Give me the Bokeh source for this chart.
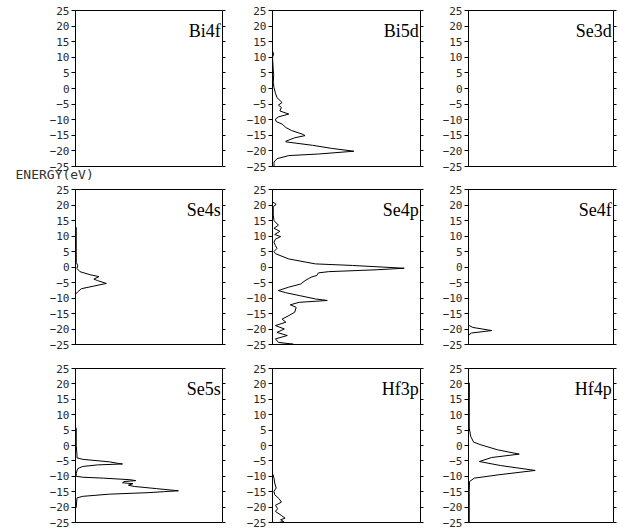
from bokeh.plotting import figure
from bokeh.layouts import gridplot
from bokeh.models import Range1d, FixedTicker, LinearAxis, Label, Title
from bokeh.embed import file_html
from bokeh.resources import INLINE

# ---------------- data ----------------
energy_ticks = [-25, -20, -15, -10, -5, 0, 5, 10, 15, 20, 25]
panel_names = ["Bi4f", "Bi5d", "Se3d", "Se4s", "Se4p", "Se4f", "Se5s", "Hf3p", "Hf4p"]
y_label = "ENERGY(eV)"

bi4f_energy = [25, -25]
bi4f_dos = [0.0, 0.0]

bi5d_energy = [25, 12, 11, 10, 6, 4.5, 2, 0.3, -1.5, -2.9, -4.5, -5.3, -6.1, -7.2, -8.2,
               -9.1, -9.8, -10.6, -11.4, -12.5, -13.5, -14.6, -15.1, -15.8, -16.9, -17.1,
               -18.2, -19.2, -20.1, -21.0, -21.5, -22.5, -23.6, -25]
bi5d_dos = [0.0, 0.0, 0.08, 0.0, 0.05, 0.08, 0.05, 0.1, 0.2, 0.3, 0.65, 0.4, 0.6, 0.5, 1.1,
            0.4, 0.2, 0.25, 0.65, 0.9, 1.3, 2.0, 2.2, 1.5, 0.9, 0.9,
            2.7, 4.0, 5.5, 3.1, 1.1, 0.3, 0.1, 0.1]

se3d_energy = [25, -25]
se3d_dos = [0.0, 0.0]

se4s_energy = [25, 13, 12.8, 5, 1.5, 0.5, -0.5, -1.5, -2.5, -3.1, -3.9, -4.4, -5.3, -6.2,
               -7.0, -8.0, -8.8, -25]
se4s_dos = [0.0, 0.0, 0.05, 0.05, 0.05, 0.15, 0.1, 0.3, 1.0, 1.6, 1.25, 1.5, 2.1, 1.2,
            0.4, 0.15, 0.0, 0.0]

se4p_energy = [25, 21, 20.2, 19.5, 17, 15, 13.5, 12.5, 11.5, 10.5, 9.8, 9, 8, 6.9, 6.0,
               5.0, 4.3, 2.6, 1.0, 0.5, -0.4, -0.9, -1.5, -1.9, -2.7, -3.3, -4.4, -5.5,
               -6.5, -7.6, -8.3, -9.2, -10.3, -10.8, -11.4, -12.2, -13.0, -14.6, -15.7,
               -16.8, -17.8, -18.9, -20.0, -21.1, -22.1, -23.2, -24.3, -24.9, -25]
se4p_dos = [0.0, 0.0, 0.25, 0.05, 0.05, 0.1, 0.4, 0.1, 0.5, 0.15, 0.55, 0.2, 0.1, 0.2, 0.3,
            0.1, 0.2, 1.1, 2.9, 5.4, 8.9, 7.0, 3.8, 3.1, 3.0, 2.6, 2.2, 1.9,
            1.1, 0.4, 0.9, 1.8, 2.9, 3.7, 1.8, 1.2, 1.6, 1.5, 1.1,
            0.65, 0.9, 0.2, 0.8, 0.3, 1.0, 0.2, 0.4, 1.4, 0.3]

se4f_energy = [25, -18.8, -19.5, -20.5, -21.3, -22.0, -25]
se4f_dos = [0.0, 0.0, 0.3, 1.6, 0.2, 0.0, 0.0]

se5s_energy = [25, 6, 5.5, 0, -3, -4.0, -4.5, -5.3, -5.8, -6.0, -6.3, -6.8, -7.5, -9, -10,
               -10.3, -10.6, -11.1, -11.4, -11.7, -12.1, -12.4, -12.9, -13.3, -14.0,
               -14.7, -15.0, -15.3, -15.8, -16.5, -17, -20, -20.5, -25]
se5s_dos = [0.0, 0.0, 0.05, 0.05, 0.1, 0.1, 0.5, 2.3, 2.9, 3.2, 1.5, 0.5, 0.15, 0.05, 0.05,
            0.5, 1.9, 3.7, 4.1, 3.3, 3.2, 3.9, 3.6, 4.0, 5.5,
            7.0, 6.0, 5.0, 2.3, 0.5, 0.1, 0.05, 0.0, 0.0]

hf3p_energy = [25, -9, -10.6, -12.2, -13.8, -14.9, -16.0, -17.3, -18.4, -19.4, -20.5,
               -21.4, -22.7, -23.6, -24.1, -24.7, -25]
hf3p_dos = [0.0, 0.0, 0.1, 0.15, 0.25, 0.1, 0.15, 0.45, 0.6, 0.2, 0.35,
            0.2, 0.6, 0.85, 0.55, 0.75, 0.4]

hf4p_energy = [25, 20.5, 20.3, 5.7, 3.0, 1.1, 0.3, -1.4, -2.8, -3.9, -5.2, -6.5, -8.1, -9.5,
               -10.6, -11.7, -15, -20, -25]
hf4p_dos = [0.0, 0.0, 0.06, 0.05, 0.15, 0.35, 0.8, 2.0, 3.5, 1.6, 0.75, 2.2, 4.6, 2.1,
            0.4, 0.07, 0.05, 0.05, 0.05]

energies = [bi4f_energy, bi5d_energy, se3d_energy, se4s_energy, se4p_energy,
            se4f_energy, se5s_energy, hf3p_energy, hf4p_energy]
dos_values = [bi4f_dos, bi5d_dos, se3d_dos, se4s_dos, se4p_dos,
              se4f_dos, se5s_dos, hf3p_dos, hf4p_dos]

# ---------------- layout ----------------
col_left = [75, 44, 42]
col_frame = [147, 148, 145]
col_right = [6, 6, 4]
row_top = [10, 6, 12]
row_frame = [156, 155, 154]
row_bottom = [17, 12, 8]

X_MAX = 10.0
TICK_FONT = "DejaVu Sans Mono"

rows = []
for r in range(3):
    row = []
    for c in range(3):
        i = r * 3 + c
        p = figure(
            width=col_left[c] + col_frame[c] + col_right[c],
            height=row_top[r] + row_frame[r] + row_bottom[r],
            x_range=Range1d(0, X_MAX), y_range=Range1d(-25, 25),
            x_axis_location=None, y_axis_location="left",
            tools="", toolbar_location=None, output_backend="svg",
            min_border_left=col_left[c], min_border_right=col_right[c],
            min_border_top=row_top[r], min_border_bottom=row_bottom[r],
            background_fill_color="white", border_fill_color="white",
            outline_line_color="black", outline_line_width=1,
        )
        p.grid.visible = False
        ax = p.yaxis[0]
        ax.ticker = FixedTicker(ticks=energy_ticks)
        ax.minor_tick_line_color = None
        ax.major_tick_in = 0
        ax.major_tick_out = 4
        ax.major_tick_line_color = "black"
        ax.axis_line_color = "black"
        ax.major_label_standoff = 2
        ax.major_label_text_font = TICK_FONT
        ax.major_label_text_font_size = "11px"
        ax.major_label_text_color = "#2a2a2a"

        rax = LinearAxis(ticker=FixedTicker(ticks=energy_ticks))
        rax.minor_tick_line_color = None
        rax.major_tick_in = 0
        rax.major_tick_out = 3
        rax.major_tick_line_color = "black"
        rax.axis_line_color = None
        rax.major_label_text_font_size = "0px"
        rax.major_label_text_color = None
        rax.major_label_standoff = 0
        p.add_layout(rax, "right")

        p.line(dos_values[i], energies[i], line_color="black", line_width=1)

        px_per_unit_y = row_frame[r] / 50.0
        px_per_unit_x = col_frame[c] / X_MAX
        p.add_layout(Label(
            x=X_MAX - 1.8 / px_per_unit_x, y=25 - 20.0 / px_per_unit_y,
            text=panel_names[i], text_align="right", text_baseline="alphabetic",
            text_font="Liberation Serif", text_font_size="18px", text_color="black",
        ))

        if i == 0:
            p.add_layout(Title(
                text=y_label, align="left", offset=-60, standoff=0,
                vertical_align="top",
                text_font=TICK_FONT, text_font_size="13px",
                text_font_style="normal", text_color="#333333",
            ), "below")
        row.append(p)
    rows.append(row)

grid = gridplot(rows, toolbar_location=None)

open("out.html", "w").write(file_html(grid, INLINE))
